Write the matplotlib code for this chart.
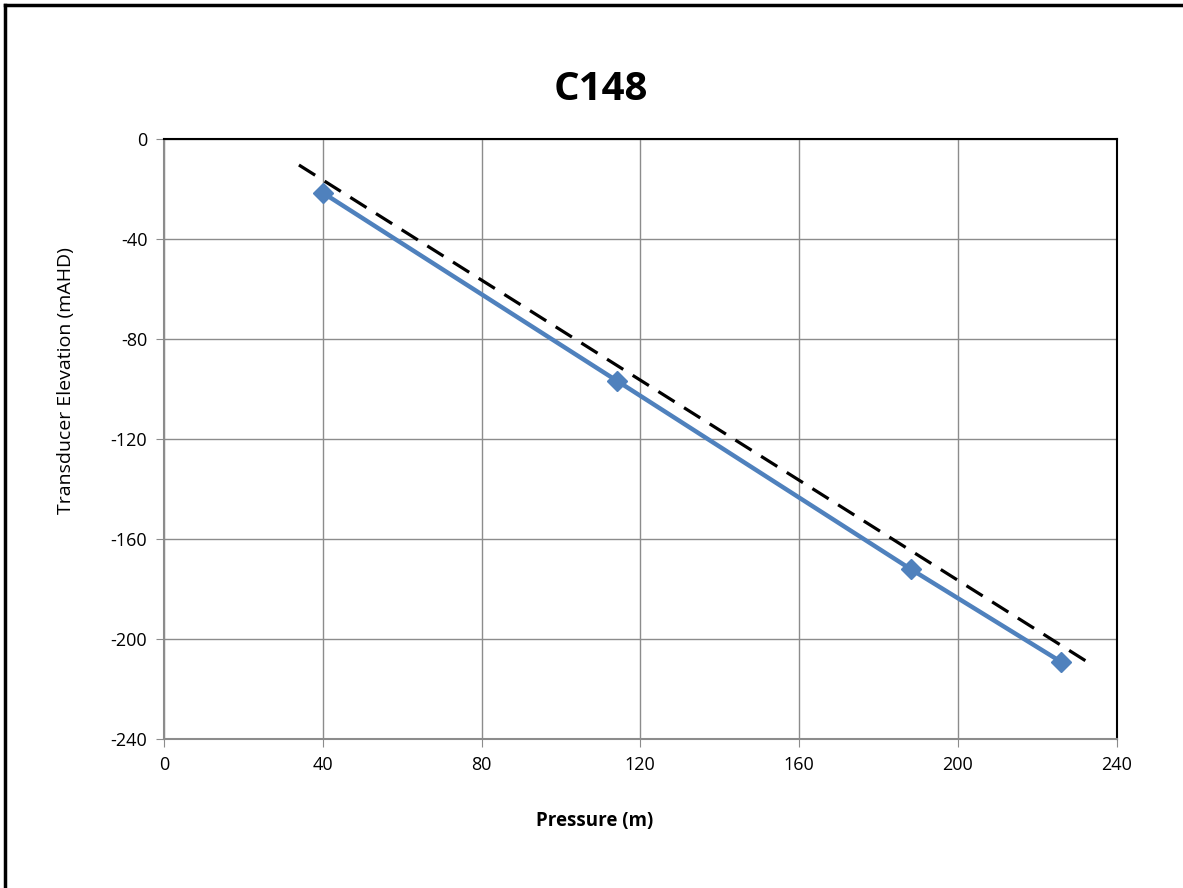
import matplotlib.pyplot as plt
from matplotlib.lines import Line2D

plt.rcParams['font.family'] = ['Open Sans', 'DejaVu Sans']
plt.rcParams['axes.unicode_minus'] = False

# measured points
pressure = [40.0, 114.1, 188.2, 226.0]
elevation = [-21.5, -96.7, -172.1, -209.1]

# dashed reference line endpoints
ref_x = [34.0, 233.1]
ref_y = [-10.4, -209.6]

xticks = [0, 40, 80, 120, 160, 200, 240]
yticks = [0, -40, -80, -120, -160, -200, -240]

W, H = 1183, 888
fig = plt.figure(figsize=(W / 100, H / 100), dpi=100)
ax = fig.add_axes([164 / W, 1 - 739 / H, (1116.5 - 164) / W, (739 - 139) / H])

ax.plot(ref_x, ref_y, color='black', lw=2.3, dashes=(6, 3.5), zorder=3)
ax.plot(pressure, elevation, color='#4F81BD', lw=3.2, marker='D', markersize=10,
        zorder=4)

ax.set_xlim(0, 240)
ax.set_ylim(-240, 0)
ax.set_xticks(xticks)
ax.set_yticks(yticks)
ax.grid(True, color='#8c8c8c', lw=1)
ax.set_axisbelow(True)
ax.tick_params(direction='out', length=6, color='#8c8c8c', labelsize=13, pad=6)

for s in ['left', 'bottom']:
    ax.spines[s].set_color('#8c8c8c')
    ax.spines[s].set_linewidth(1.5)
for s in ['top', 'right']:
    ax.spines[s].set_color('black')
    ax.spines[s].set_linewidth(1.5)

# labels placed like the original (Excel-style offsets)
fig.text(594.5 / W, 1 - 821 / H, 'Pressure (m)', fontsize=13.5, fontweight='bold',
         ha='center', va='center')
fig.text(66 / W, 1 - 381 / H, 'Transducer Elevation (mAHD)', fontsize=14,
         rotation=90, ha='center', va='center')
fig.text(601 / W, 1 - 89 / H, 'C148', fontsize=29, fontweight='bold',
         ha='center', va='center')

# outer chart border (only left and top visible)
fig.lines.append(Line2D([5 / W, 5 / W], [0, 1 - 5.5 / H], transform=fig.transFigure,
                        color='black', lw=2.5))
fig.lines.append(Line2D([5 / W, 1], [1 - 5.5 / H, 1 - 5.5 / H], transform=fig.transFigure,
                        color='black', lw=2.5))

fig.savefig('out.png', dpi=100)
